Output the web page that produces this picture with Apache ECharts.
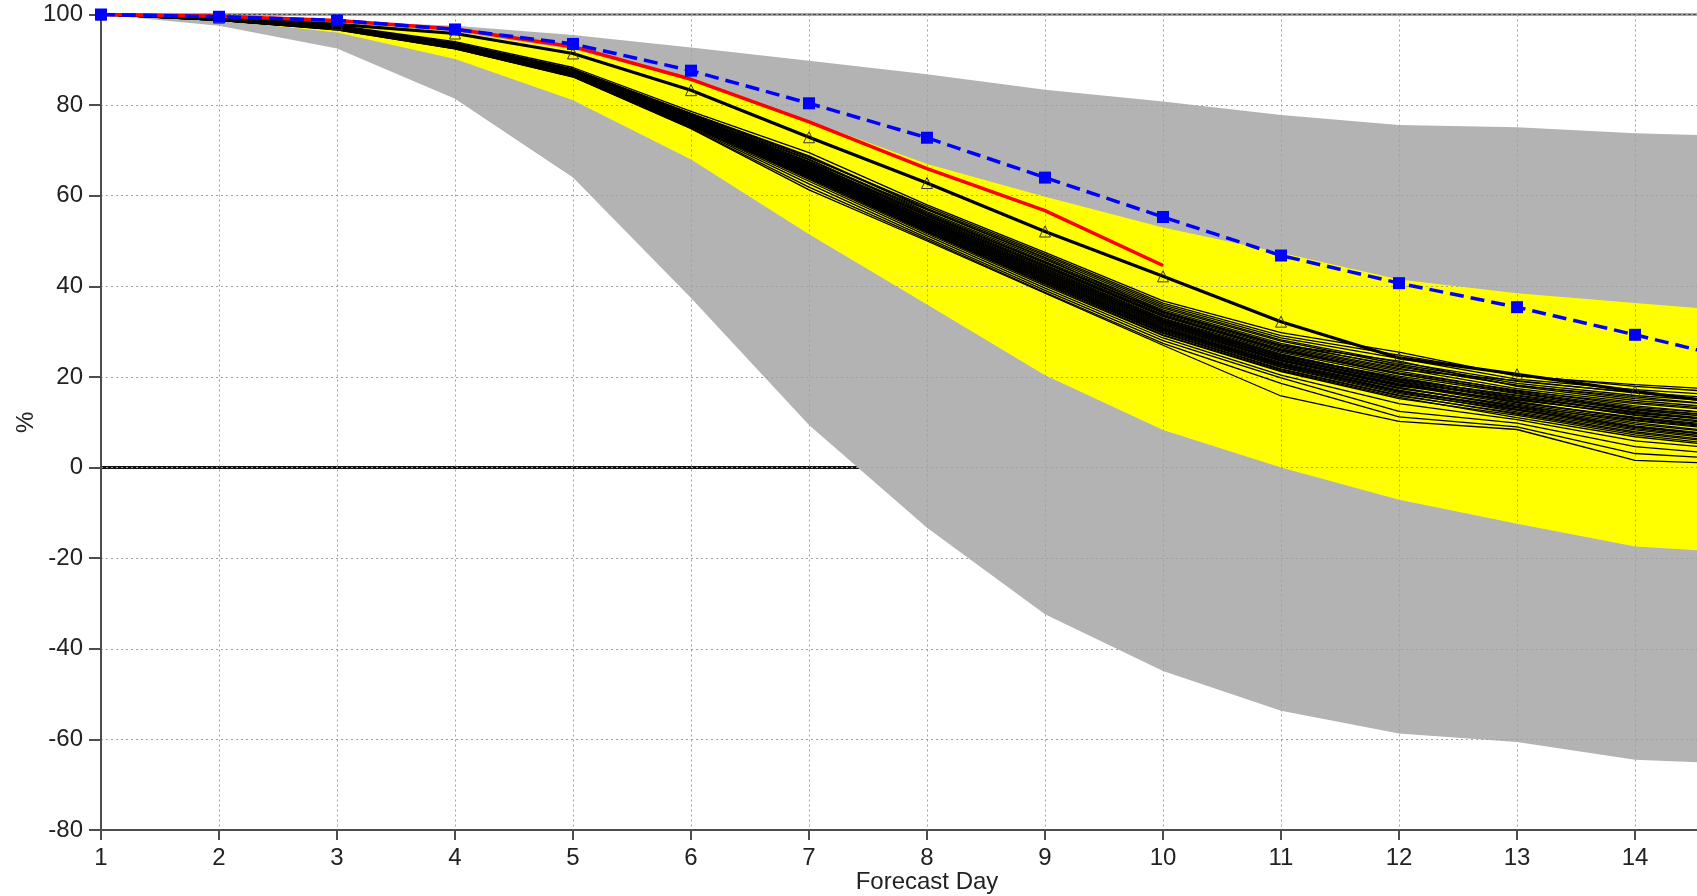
<!DOCTYPE html>
<html>
<head>
<meta charset="utf-8">
<title>Forecast Day</title>
<script src="https://cdn.jsdelivr.net/npm/echarts@6/dist/echarts.min.js"></script>
<style>
  html, body { margin: 0; padding: 0; background: #ffffff; }
  #chart { width: 1697px; height: 896px; }
</style>
</head>
<body>
<div id="chart"></div>
<script>
// Forecast days (day 15 lies just past the right edge of the plot)
const days = [1, 2, 3, 4, 5, 6, 7, 8, 9, 10, 11, 12, 13, 14, 15];
const yTicks = [-80, -60, -40, -20, 0, 20, 40, 60, 80, 100];

// Outer (grey) envelope
const outerUpper = [100, 99.5, 98.5, 97.5, 95.5, 92.7, 89.8, 86.8, 83.4, 80.8, 77.8, 75.6, 75.1, 73.8, 73.0];
const outerLower = [100, 97.5, 92.5, 81.4, 64.0, 37.4, 9.4, -13.3, -32.4, -44.9, -53.7, -58.7, -60.6, -64.5, -65.5];

// Inner (yellow) envelope
const innerUpper = [100, 99.4, 98.2, 96.2, 92.3, 85.5, 76.5, 67.0, 59.8, 53.0, 47.4, 41.5, 38.5, 36.3, 34.2];
const innerLower = [100, 98.8, 96.0, 90.2, 81.1, 68.0, 51.5, 36.0, 20.4, 8.3, 0.0, -7.1, -12.4, -17.4, -19.0];

// Dashed blue reference curve with square markers
const blueValues = [100, 99.5, 98.7, 96.7, 93.5, 87.6, 80.4, 72.8, 64.0, 55.3, 46.8, 40.7, 35.4, 29.3, 23.0];

// Red curve (runs to day 10 only)
const redDays = [1, 2, 3, 4, 5, 6, 7, 8, 9, 10];
const redValues = [100, 99.6, 98.7, 96.8, 92.9, 85.7, 76.3, 66.0, 56.7, 44.6];

// Thick black control curve with triangle markers
const controlValues = [100, 99.3, 97.8, 95.8, 91.4, 83.3, 72.9, 62.8, 52.1, 42.2, 32.2, 24.2, 20.6, 16.8, 13.5];

// Ensemble members (thin black)
const members = [
  [100, 99.2, 97.6, 94.0, 88.3, 78.6, 69.5, 58.0, 47.5, 36.8, 29.8, 25.5, 20.2, 18.3, 16.8],
  [100, 99.1, 97.5, 93.8, 88.0, 78.2, 68.8, 57.2, 46.8, 35.9, 28.6, 24.1, 19.5, 17.2, 15.5],
  [100, 99.0, 97.4, 93.6, 87.8, 77.9, 68.1, 56.5, 45.9, 35.2, 27.9, 22.8, 18.6, 15.9, 14.1],
  [100, 99.2, 97.3, 93.5, 87.6, 77.5, 67.6, 56.9, 46.2, 34.5, 27.1, 23.5, 17.9, 14.8, 12.6],
  [100, 99.0, 97.2, 93.4, 87.5, 77.8, 67.2, 55.8, 45.1, 34.1, 26.5, 21.6, 19.2, 16.5, 13.9],
  [100, 98.9, 97.3, 93.3, 87.3, 77.2, 66.9, 55.2, 44.6, 33.6, 26.0, 20.9, 17.1, 13.6, 11.2],
  [100, 99.1, 97.1, 93.2, 87.2, 77.0, 66.5, 54.8, 44.0, 33.0, 25.4, 20.2, 16.3, 12.9, 10.8],
  [100, 98.9, 97.0, 93.1, 87.1, 76.8, 66.2, 54.5, 43.5, 32.6, 24.9, 19.6, 15.8, 12.1, 9.6],
  [100, 99.0, 97.2, 93.2, 87.0, 76.6, 65.8, 54.1, 43.1, 32.2, 24.4, 19.1, 15.2, 11.5, 8.9],
  [100, 98.8, 97.0, 93.0, 86.9, 76.5, 65.5, 53.7, 42.7, 31.8, 23.9, 18.5, 14.6, 10.8, 8.2],
  [100, 99.0, 97.1, 93.1, 86.8, 76.3, 65.2, 53.4, 42.2, 31.3, 23.5, 18.0, 14.9, 11.9, 10.1],
  [100, 98.8, 96.9, 92.9, 86.7, 76.2, 64.9, 53.0, 41.8, 30.9, 23.0, 17.4, 13.8, 9.9, 7.1],
  [100, 98.9, 97.0, 92.8, 86.6, 76.0, 64.6, 52.7, 41.4, 30.5, 22.6, 16.9, 13.2, 9.2, 6.5],
  [100, 98.8, 96.8, 92.7, 86.5, 75.8, 64.3, 52.3, 41.0, 30.0, 22.1, 16.3, 12.6, 8.6, 5.8],
  [100, 98.9, 96.9, 92.8, 86.5, 75.7, 64.0, 52.0, 40.6, 29.6, 21.6, 15.8, 12.0, 7.9, 5.0],
  [100, 98.7, 96.8, 92.6, 86.4, 75.5, 63.6, 51.6, 40.1, 29.1, 21.2, 15.2, 11.5, 7.2, 4.3],
  [100, 98.8, 96.7, 92.6, 86.4, 75.3, 63.2, 51.2, 39.6, 28.6, 20.4, 14.1, 10.6, 5.9, 3.6],
  [100, 98.7, 96.7, 92.5, 86.3, 75.1, 62.6, 50.7, 39.1, 28.0, 19.8, 12.4, 9.8, 4.6, 2.4],
  [100, 98.7, 96.6, 92.4, 86.3, 74.9, 61.9, 50.3, 38.7, 27.4, 18.6, 11.2, 9.0, 3.1, 1.6],
  [100, 98.7, 96.6, 92.4, 86.2, 74.8, 61.3, 50.0, 38.5, 27.0, 15.8, 10.2, 8.4, 1.6, 0.6],
  [100, 99.1, 97.4, 93.7, 87.9, 78.0, 68.4, 57.6, 47.1, 36.3, 29.1, 24.8, 20.4, 17.9, 16.2],
  [100, 99.0, 97.3, 93.5, 87.7, 77.6, 67.9, 56.2, 45.5, 34.8, 27.4, 22.2, 18.2, 15.2, 13.4],
  [100, 99.0, 97.2, 93.3, 87.4, 77.3, 67.0, 55.5, 44.8, 33.8, 26.2, 21.3, 16.9, 14.1, 12.0],
  [100, 98.9, 97.1, 93.2, 87.2, 77.1, 66.7, 55.0, 44.3, 33.3, 25.7, 20.6, 16.7, 13.3, 11.4],
  [100, 98.9, 97.1, 93.0, 87.0, 76.7, 66.0, 54.3, 43.3, 32.4, 24.6, 19.9, 15.5, 12.4, 9.9],
  [100, 98.9, 97.0, 93.0, 86.9, 76.4, 65.6, 53.9, 42.9, 32.0, 24.1, 18.8, 14.3, 11.1, 8.6],
  [100, 98.8, 96.9, 92.9, 86.8, 76.1, 65.1, 53.2, 42.0, 31.1, 23.2, 17.7, 13.5, 10.3, 7.8],
  [100, 98.8, 96.9, 92.8, 86.6, 75.9, 64.8, 52.8, 41.6, 30.7, 22.8, 17.1, 12.9, 8.9, 6.2],
  [100, 98.8, 96.8, 92.7, 86.5, 75.6, 64.4, 52.5, 41.2, 30.2, 22.3, 16.6, 12.3, 8.3, 5.5],
  [100, 98.7, 96.8, 92.6, 86.4, 75.4, 63.9, 51.9, 40.4, 29.3, 21.4, 15.5, 11.0, 6.8, 4.0],
  [100, 99.0, 97.3, 93.4, 87.4, 77.4, 67.3, 55.6, 45.3, 34.3, 26.8, 21.9, 17.4, 14.4, 12.3],
  [100, 98.9, 97.1, 93.1, 87.1, 76.9, 66.4, 54.6, 43.8, 32.8, 25.1, 19.4, 16.0, 12.7, 10.4],
  [100, 98.9, 97.0, 93.0, 86.9, 76.6, 65.9, 54.0, 43.0, 32.1, 24.2, 18.9, 15.0, 11.7, 9.2],
  [100, 98.8, 97.0, 92.9, 86.8, 76.3, 65.3, 53.5, 42.4, 31.5, 23.6, 18.2, 14.0, 10.5, 8.0],
  [100, 98.8, 96.9, 92.8, 86.7, 76.1, 65.0, 53.1, 41.9, 30.8, 22.9, 17.6, 13.4, 9.6, 7.0],
  [100, 98.8, 96.8, 92.7, 86.6, 75.9, 64.5, 52.6, 41.3, 30.4, 22.5, 16.8, 12.8, 9.0, 6.4],
  [100, 99.1, 97.5, 93.7, 87.9, 78.1, 68.6, 57.0, 46.4, 35.5, 28.2, 23.2, 19.0, 16.6, 14.8],
  [100, 99.0, 97.3, 93.4, 87.5, 77.5, 67.4, 56.0, 45.2, 34.4, 27.0, 22.5, 18.1, 15.6, 13.2],
  [100, 98.9, 97.2, 93.2, 87.2, 77.0, 66.6, 55.1, 44.4, 33.5, 25.9, 20.7, 16.5, 13.0, 10.9],
  [100, 98.9, 97.0, 93.1, 87.0, 76.7, 66.1, 54.4, 43.6, 32.5, 24.7, 19.3, 15.4, 12.2, 9.7],
  [100, 98.8, 96.9, 92.9, 86.8, 76.2, 65.4, 53.6, 42.5, 31.6, 23.7, 18.3, 14.4, 10.9, 8.4],
  [100, 98.7, 96.8, 92.6, 86.5, 75.6, 64.2, 52.2, 40.8, 29.8, 21.8, 16.0, 11.8, 7.6, 4.8]
];

// Horizontal zero line
const zeroValues = [0, 0, 0, 0, 0, 0, 0, 0, 0, 0, 0, 0, 0, 0, 0];

const FONT = '"Liberation Sans", Arial, Helvetica, sans-serif';

function pairs(xs, ys) {
  return xs.map((x, i) => [x, ys[i]]);
}

// Filled envelope between an upper and a lower curve
function bandSeries(upper, lower, fill, z) {
  return {
    type: 'custom',
    coordinateSystem: 'cartesian2d',
    z: z,
    silent: true,
    clip: true,
    data: [[days[0], lower[0]]],
    renderItem: function (params, api) {
      const pts = [];
      for (let i = 0; i < days.length; i++) pts.push(api.coord([days[i], upper[i]]));
      for (let i = days.length - 1; i >= 0; i--) pts.push(api.coord([days[i], lower[i]]));
      return { type: 'polygon', shape: { points: pts }, style: { fill: fill, stroke: null } };
    }
  };
}

const series = [];

series.push({
  type: 'line', z: 1, silent: true, symbol: 'none',
  data: pairs(days, zeroValues),
  lineStyle: { color: '#111111', width: 3 }
});

series.push(bandSeries(outerUpper, outerLower, '#b3b3b3', 2));
series.push(bandSeries(innerUpper, innerLower, '#ffff00', 3));

members.forEach(function (m) {
  series.push({
    type: 'line', z: 5, silent: true, symbol: 'none',
    data: pairs(days, m),
    lineStyle: { color: '#000000', width: 1.3 }
  });
});

series.push({
  type: 'line', z: 6, silent: true,
  data: pairs(days, controlValues),
  symbol: 'triangle', symbolSize: 11,
  itemStyle: { color: 'rgba(0,0,0,0)', borderColor: '#333333', borderWidth: 1 },
  lineStyle: { color: '#000000', width: 3.2 }
});

series.push({
  type: 'line', z: 7, silent: true, symbol: 'none',
  data: pairs(redDays, redValues),
  lineStyle: { color: '#ff0000', width: 3.5 }
});

series.push({
  type: 'line', z: 8, silent: true,
  data: pairs(days, blueValues),
  symbol: 'rect', symbolSize: 12,
  itemStyle: { color: '#0000ff' },
  lineStyle: { color: '#0000ff', width: 3.5, type: [14, 7] }
});

const axisLabelStyle = { fontFamily: FONT, fontSize: 24, color: '#222222' };
const gridLine = { show: true, lineStyle: { color: '#a0a0a0', width: 1, type: [2, 3] } };

const option = {
  animation: false,
  backgroundColor: '#ffffff',
  grid: {
    left: 101, top: 14.5, right: -56, bottom: 66,
    show: true, borderColor: '#4d4d4d', borderWidth: 2,
    containLabel: false, outerBoundsMode: 'none'
  },
  xAxis: {
    type: 'value', min: 1, max: 15, interval: 1, z: 4,
    name: 'Forecast Day', nameLocation: 'middle', nameGap: 40, nameMoveOverlap: false,
    nameTextStyle: { fontFamily: FONT, fontSize: 24, color: '#222222' },
    axisLine: { show: true, onZero: false, lineStyle: { color: '#4d4d4d', width: 2 } },
    axisTick: { show: true, inside: false, length: 10, lineStyle: { color: '#4d4d4d', width: 2 } },
    axisLabel: Object.assign({ margin: 16 }, axisLabelStyle),
    splitLine: gridLine
  },
  yAxis: {
    type: 'value', min: yTicks[0], max: yTicks[yTicks.length - 1], interval: 20, z: 4,
    name: '%', nameLocation: 'middle', nameGap: 63, nameRotate: 90, nameMoveOverlap: false,
    nameTextStyle: { fontFamily: FONT, fontSize: 24, color: '#222222' },
    axisLine: { show: true, onZero: false, lineStyle: { color: '#4d4d4d', width: 2 } },
    axisTick: { show: true, inside: false, length: 12, lineStyle: { color: '#4d4d4d', width: 2 } },
    axisLabel: Object.assign({ margin: 18 }, axisLabelStyle),
    splitLine: gridLine
  },
  series: series
};

const chart = echarts.init(document.getElementById('chart'), null, { renderer: 'canvas' });
chart.setOption(option);
</script>
</body>
</html>
